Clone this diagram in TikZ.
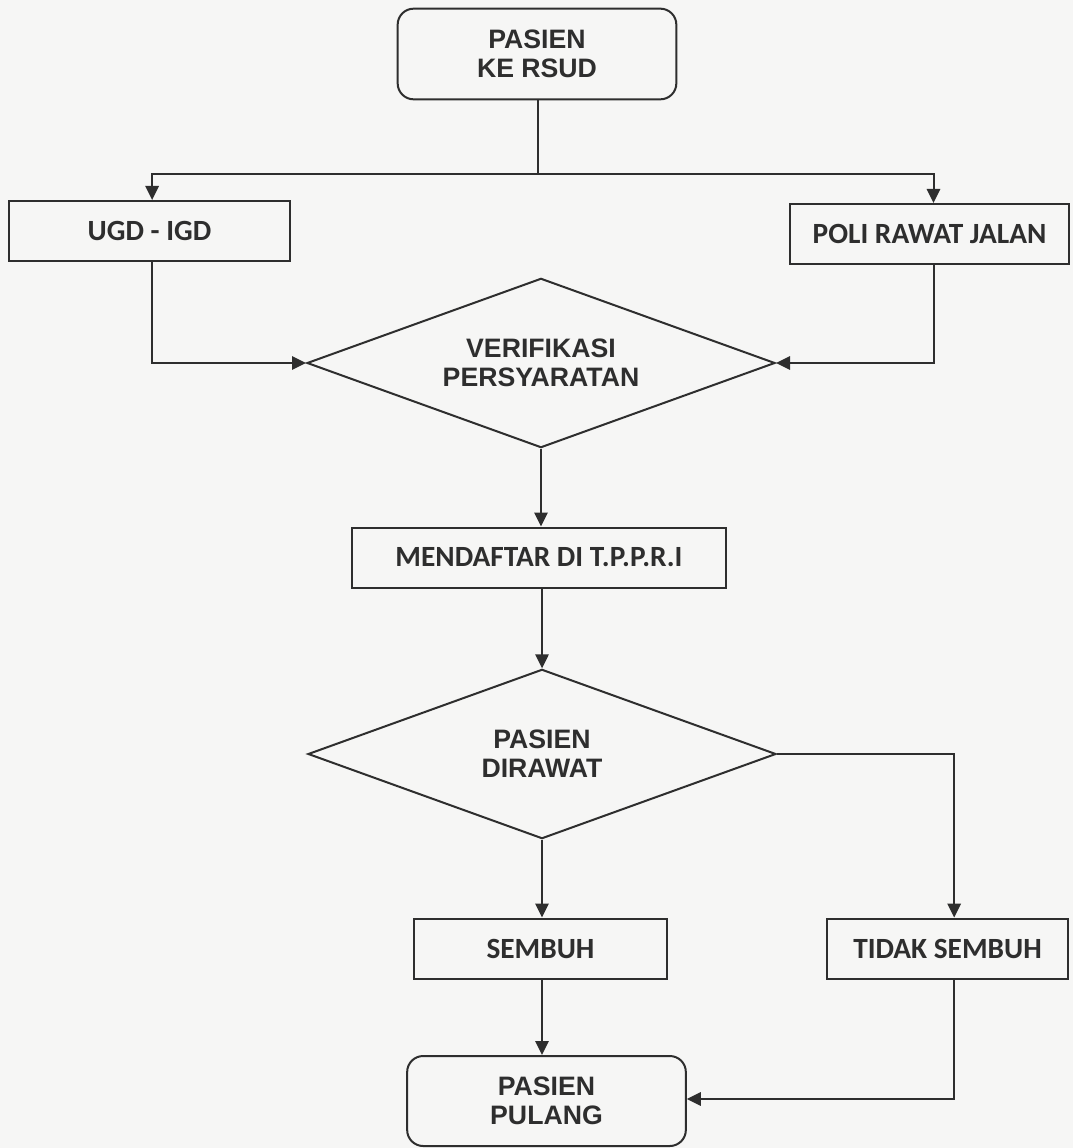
\documentclass[tikz,border=0pt]{standalone}
\usepackage{fontspec}
\newfontfamily\arialbf{Liberation Sans}
\newfontfamily\calibf{Carlito}
\usepackage{tikz}
\usetikzlibrary{arrows.meta, shapes.geometric}
\usepackage{xcolor}
\definecolor{ink}{HTML}{2E2E2E}
\definecolor{paper}{HTML}{F6F6F5}

\begin{document}
\begin{tikzpicture}[
  x=0.75pt, y=-0.75pt,
  term/.style={rectangle, rounded corners=12pt, draw=ink, line width=1.5pt,
               text=ink, minimum width=209pt, minimum height=68pt,
               align=center, font=\arialbf\bfseries\fontsize{20}{22}\selectfont},
  box/.style={rectangle, draw=ink, line width=1.5pt, text=ink,
              minimum height=45pt, inner sep=0pt,
              align=center, font=\calibf\bfseries\fontsize{22}{25}\selectfont},
  dec/.style={diamond, aspect=2.76, draw=ink, line width=1.5pt, text=ink,
              inner sep=0pt, minimum width=351pt, minimum height=127pt,
              align=center, font=\arialbf\bfseries\fontsize{20}{22}\selectfont},
  line/.style={draw=ink, line width=1.5pt},
  arr/.style={line, -{Triangle[length=10.5pt, width=10pt]}},
]
  \fill[paper] (0,0) rectangle (1073,1148);
  \useasboundingbox (0,0) rectangle (1073,1148);

  \node[term] (start)  at (537, 54)    {PASIEN\\KE RSUD};
  \node[box, minimum width=210.75pt] (ugd)  at (149.5, 231) {UGD - IGD};
  \node[box, minimum width=209pt]    (poli) at (929.5, 234) {POLI RAWAT JALAN};
  \node[dec] (verif)   at (541, 363)   {VERIFIKASI\\PERSYARATAN};
  \node[box, minimum width=280.5pt]  (daftar) at (539, 557.5) {MENDAFTAR DI T.P.P.R.I};
  \node[dec] (rawat)   at (542, 754)   {PASIEN\\DIRAWAT};
  \node[box, minimum width=190pt]    (sembuh) at (540.5, 948.5) {SEMBUH};
  \node[box, minimum width=181pt]    (tidak)  at (947.5, 948.5) {TIDAK SEMBUH};
  \node[term, minimum height=67.5pt] (pulang) at (546.5, 1101) {PASIEN\\PULANG};

  \coordinate (split) at (538, 174);
  \draw[line] (start.south -| split) -- (split);
  \draw[arr] (split) -| ([xshift=2pt]ugd.north);
  \draw[arr] (split) -| ([xshift=3pt]poli.north);
  \draw[arr] ([xshift=2pt]ugd.south) |- (verif.west);
  \draw[arr] ([xshift=3pt]poli.south) |- (verif.east);
  \draw[arr] (verif.south) -- (verif.south |- daftar.north);
  \draw[arr] (daftar.south -| rawat.north) -- (rawat.north);
  \draw[arr] (rawat.south) -- (rawat.south |- sembuh.north);
  \draw[arr] (rawat.east) -| ([xshift=5pt]tidak.north);
  \draw[arr] (sembuh.south -| rawat.south) -- (rawat.south |- pulang.north);
  \draw[arr] ([xshift=5pt]tidak.south) |- ([yshift=1.5pt]pulang.east);
\end{tikzpicture}
\end{document}
